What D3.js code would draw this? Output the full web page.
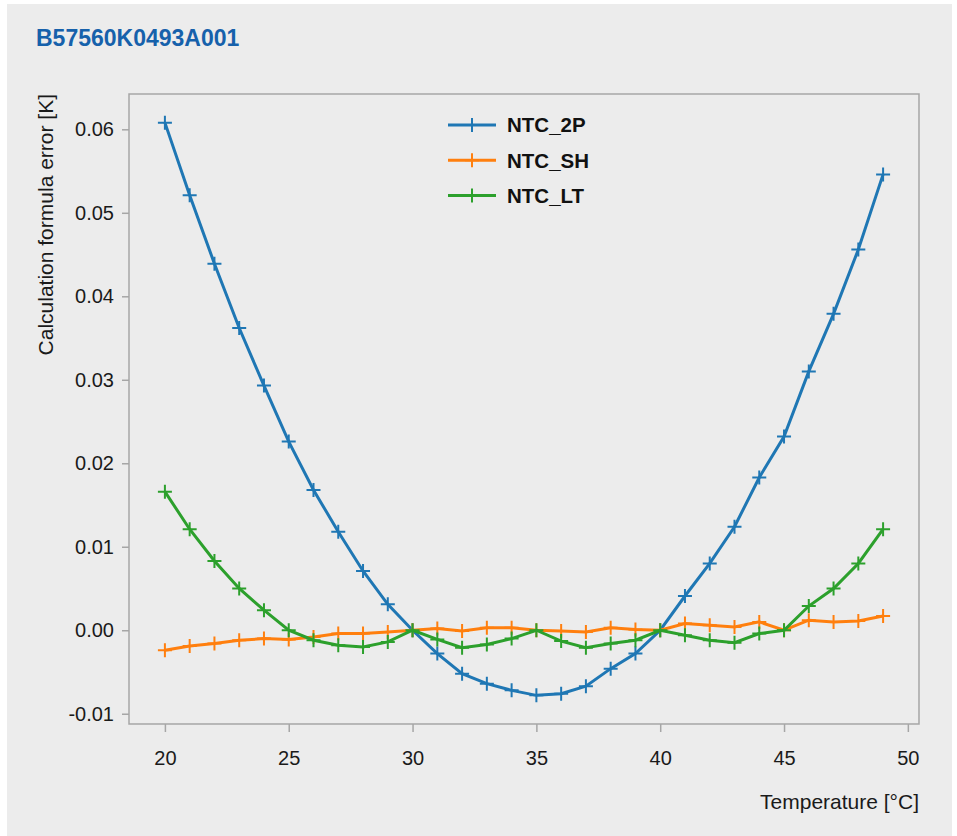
<!DOCTYPE html>
<html>
<head>
<meta charset="utf-8">
<script src="https://cdn.jsdelivr.net/npm/d3@7"></script>
<style>
  body { margin: 0; background: #fff; }
  svg { display: block; font-family: "Liberation Sans", Arial, sans-serif; }
  .axis path, .axis line { stroke: #a6a6a6; stroke-width: 1.5; }
  .axis text { font-size: 20px; fill: #1a1a1a; }
</style>
</head>
<body>
<svg width="957" height="836"></svg>
<script>
// temperatures [°C]
var temps = d3.range(20, 50);

// calculation formula error [K]
var ntc2P = [0.0608, 0.0521, 0.0439, 0.0362, 0.0293, 0.0226, 0.0168, 0.0118, 0.0071, 0.0031,
             0.0000, -0.0028, -0.0052, -0.0064, -0.0072, -0.0078, -0.0076, -0.0067, -0.0046, -0.0028,
             0.0000, 0.0041, 0.0080, 0.0124, 0.0183, 0.0232, 0.0310, 0.0379, 0.0456, 0.0546];
var ntcSH = [-0.0024, -0.0019, -0.0016, -0.0012, -0.0010, -0.0011, -0.0008, -0.0004, -0.0004, -0.0002,
             0.0000, 0.0002, -0.0001, 0.0003, 0.0003, 0.0000, -0.0001, -0.0002, 0.0003, 0.0001,
             0.0000, 0.0008, 0.0006, 0.0004, 0.0010, 0.0000, 0.0012, 0.0010, 0.0011, 0.0017];
var ntcLT = [0.0166, 0.0121, 0.0083, 0.0050, 0.0024, 0.0000, -0.0012, -0.0018, -0.0020, -0.0014,
             0.0000, -0.0011, -0.0021, -0.0017, -0.0010, 0.0000, -0.0013, -0.0021, -0.0016, -0.0012,
             0.0000, -0.0006, -0.0012, -0.0015, -0.0004, 0.0000, 0.0029, 0.0050, 0.0080, 0.0121];

var seriesNames = ["NTC_2P", "NTC_SH", "NTC_LT"];
var seriesColors = ["#1f77b4", "#ff7f0e", "#2ca02c"];
var xTicks = [20, 25, 30, 35, 40, 45, 50];
var yTicks = [-0.01, 0.00, 0.01, 0.02, 0.03, 0.04, 0.05, 0.06];

var svg = d3.select("svg"),
    margin = {top: 94, right: 38, bottom: 112, left: 129},
    width = 957 - margin.left - margin.right,
    height = 836 - margin.top - margin.bottom;

// figure background
svg.append("rect").attr("x", 7).attr("y", 4).attr("width", 945).attr("height", 832).attr("fill", "#ececec");

svg.append("text")
    .attr("x", 36).attr("y", 46)
    .style("font-size", "23px").style("font-weight", "bold").style("fill", "#1661ab")
    .text("B57560K0493A001");

var g = svg.append("g").attr("transform", "translate(" + margin.left + "," + margin.top + ")");

// matplotlib-style 5% margins
var xPad = (49 - 20) * 0.05;
var yMin = d3.min(ntc2P), yMax = d3.max(ntc2P), yPad = (yMax - yMin) * 0.05;

var x = d3.scaleLinear().domain([20 - xPad, 49 + xPad]).range([0, width]);
var y = d3.scaleLinear().domain([yMin - yPad, yMax + yPad]).range([height, 0]);

var series = seriesNames.map(function(name, i) {
  var vals = [ntc2P, ntcSH, ntcLT][i];
  return {id: name, color: seriesColors[i], values: temps.map(function(t, j) { return {t: t, v: vals[j]}; })};
});

// frame
g.append("rect").attr("width", width).attr("height", height)
  .attr("fill", "none").attr("stroke", "#a6a6a6").attr("stroke-width", 1.5);

g.append("g")
  .attr("class", "axis")
  .attr("transform", "translate(0," + height + ")")
  .call(d3.axisBottom(x).tickValues(xTicks).tickSize(8).tickPadding(19).tickFormat(d3.format("d")))
  .call(function(a) { a.select(".domain").remove(); });

// plain hyphen for negatives, like the original
var yFmt = function(d) { return d3.format(".2f")(d).replace("\u2212", "-"); };
g.append("g")
  .attr("class", "axis")
  .call(d3.axisLeft(y).tickValues(yTicks).tickSize(7).tickPadding(8).tickFormat(yFmt))
  .call(function(a) { a.select(".domain").remove(); });

// axis labels, matplotlib loc="top" / loc="right"
svg.append("text")
  .attr("transform", "translate(53," + margin.top + ") rotate(-90)")
  .attr("text-anchor", "end")
  .style("font-size", "21px").style("fill", "#1a1a1a")
  .text("Calculation formula error [K]");

svg.append("text")
  .attr("x", margin.left + width).attr("y", 809)
  .attr("text-anchor", "end")
  .style("font-size", "21px").style("fill", "#1a1a1a")
  .text("Temperature [°C]");

var line = d3.line()
  .x(function(d) { return x(d.t); })
  .y(function(d) { return y(d.v); });

var s = g.selectAll(".series")
  .data(series)
  .enter().append("g")
  .attr("class", "series");

s.append("path")
  .attr("d", function(d) { return line(d.values); })
  .attr("fill", "none")
  .attr("stroke", function(d) { return d.color; })
  .attr("stroke-width", 3);

var cross = "M-7,0H7M0,-7V7";
s.each(function(d) {
  d3.select(this).selectAll(".mk")
    .data(d.values)
    .enter().append("path")
    .attr("transform", function(p) { return "translate(" + x(p.t) + "," + y(p.v) + ")"; })
    .attr("d", cross)
    .attr("stroke", d.color)
    .attr("stroke-width", 2);
});

// legend
var legend = g.append("g").attr("transform", "translate(319,31)");
var item = legend.selectAll(".item")
  .data(series)
  .enter().append("g")
  .attr("transform", function(d, i) { return "translate(0," + i * 35.3 + ")"; });

item.append("line").attr("x1", 0).attr("x2", 48)
  .attr("stroke", function(d) { return d.color; }).attr("stroke-width", 3);
item.append("path").attr("transform", "translate(24,0)").attr("d", cross)
  .attr("stroke", function(d) { return d.color; }).attr("stroke-width", 2);
item.append("text").attr("x", 59).attr("dy", "0.36em")
  .style("font-size", "20.5px").style("font-weight", "bold").style("fill", "#111")
  .text(function(d) { return d.id; });
</script>
</body>
</html>
